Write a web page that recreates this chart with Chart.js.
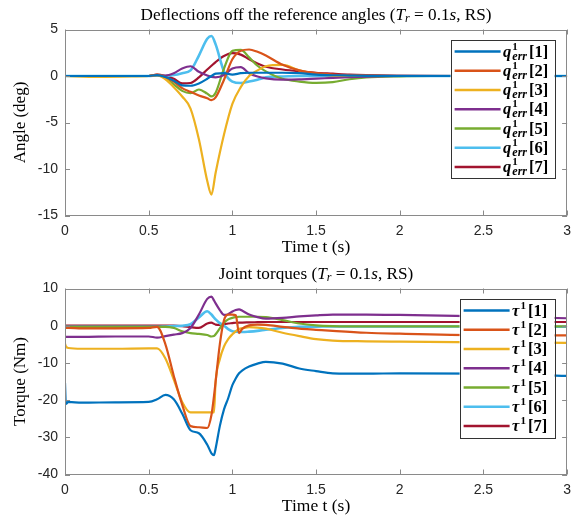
<!DOCTYPE html>
<html><head><meta charset="utf-8">
<script src="https://cdn.jsdelivr.net/npm/chart.js@4.4.1/dist/chart.umd.min.js"></script>
<style>
html,body{margin:0;padding:0;background:#fff;}
#wrap{position:relative;width:578px;height:519px;}
.c{position:absolute;left:0;width:578px;height:259px;}
</style></head><body>
<div id="wrap">
<div class="c" style="top:0"><canvas id="c1" width="578" height="259"></canvas></div>
<div class="c" style="top:259px"><canvas id="c2" width="578" height="259"></canvas></div>
</div>
<script>
// ---------- data: deflections (deg) ----------
const timeTop = [0,0.2,0.4,0.5,0.55,0.6,0.65,0.7,0.75,0.8,0.85,0.875,0.9,0.95,1.0,1.05,1.1,1.15,1.2,1.3,1.4,1.5,1.6,1.7,1.8,2.0,2.2,2.5,3.0];
const qErr1 = [0,0,0,0,0.1,-0.1,-0.5,-1.0,-1.05,-0.8,-0.3,0,0.25,0.3,0.15,0.3,0.35,0.35,0.35,0.35,0.3,0.15,0.08,0.05,0.02,0,0,0,0];
const qErr2 = [0,0,0,0,0.15,-0.1,-0.6,-1.3,-1.7,-2.1,-2.4,-2.6,-2.3,-0.4,1.8,2.7,2.85,2.6,2.2,1.2,0.6,0.3,0.15,0.08,0.05,0,0,0,0];
const qErr3 = [0,-0.1,-0.05,0,0.1,-0.35,-1.2,-2.2,-3.5,-6.8,-11.3,-12.75,-10.4,-6.3,-3.0,-1.2,0,0.6,1.05,1.2,0.6,0.2,0.05,0,0,0,0,0,0];
const qErr4 = [0,0,0,0,0.1,0.05,0.3,0.8,1.05,0.45,0.05,-0.1,-0.15,0.1,0.8,0.95,0.3,-0.05,-0.25,-0.38,-0.36,-0.28,-0.2,-0.12,-0.06,0,0,0,0];
const qErr5 = [0,0,0,0,0.1,-0.2,-0.9,-1.6,-1.85,-1.45,-1.9,-2.2,-1.8,0.8,2.7,2.8,2.0,1.1,0.5,-0.3,-0.6,-0.73,-0.65,-0.35,-0.15,-0.03,0,0,0];
const qErr6 = [0,0,0,0,0.05,0,0.1,0.3,0.6,2.2,4.0,4.3,3.4,0.5,-0.6,-0.75,-0.6,-0.4,-0.15,-0.05,0,0,0,0,0,0,0,0,0];
const qErr7 = [0,0,0,0,0.15,0,-0.3,-0.8,-0.75,-0.15,0.7,1.1,1.5,2.15,2.45,2.3,1.8,1.35,1.0,0.7,0.5,0.35,0.25,0.15,0.1,0.05,0.02,0,0];

// ---------- data: joint torques (Nm) ----------
const timeBottom = [0,0.005,0.02,0.1,0.3,0.5,0.55,0.6,0.65,0.7,0.75,0.8,0.85,0.875,0.89,0.9,0.925,0.95,0.975,1.0,1.02,1.04,1.06,1.1,1.15,1.2,1.3,1.4,1.5,1.6,1.8,2.0,2.5,3.0];
const tau1 = [-15.4,-21,-20.5,-20.7,-20.6,-20.5,-19.8,-18.6,-19.8,-23.6,-28.1,-28.9,-32.0,-34.3,-34.8,-33,-27,-22.5,-19.5,-16,-14.2,-12.8,-12.0,-11.0,-10.2,-9.7,-10.2,-11.5,-12.2,-12.8,-12.9,-12.8,-12.9,-13.5];
const tau2 = [-0.6,-0.6,-0.6,-0.7,-0.7,-0.6,-0.3,-5,-13.5,-21.2,-27,-27.3,-27.5,-24,-19,-15,-5,1.5,3.0,3.0,2.8,-2.0,-0.8,0.1,0.3,0.2,-0.3,-0.8,-1.1,-1.4,-1.9,-2.15,-2.55,-2.6];
const tau3 = [-4.8,-5.5,-6.0,-6.2,-6.2,-6.1,-6.1,-8.8,-14.5,-20.5,-23.3,-23.3,-23.3,-23.3,-23.3,-15,-9,-5.6,-3.6,-2.3,-1.5,-0.9,-0.7,-0.4,-0.5,-0.8,-1.9,-2.8,-3.6,-4.0,-4.2,-4.3,-4.5,-4.6];
const tau4 = [-3.0,-3.0,-3.0,-3.0,-2.9,-2.9,-3.2,-2.8,-2.4,-2.0,-0.6,3.0,7.2,7.8,6.8,6.0,4.2,2.9,3.1,3.8,4.2,4.4,4.0,3.0,2.3,1.9,2.1,2.5,2.8,3.0,3.0,2.9,2.5,2.0];
const tau5 = [-0.3,-0.3,-0.3,-0.3,-0.3,-0.3,-0.3,-0.3,-0.6,-1.5,-2.0,-2.2,-2.5,-2.9,-2.8,-2.3,-0.7,0.8,1.7,2.1,2.3,2.4,2.4,2.4,2.4,2.3,1.5,0.6,0.1,-0.1,-0.2,-0.2,-0.2,-0.2];
const tau6 = [-0.3,-0.3,-0.3,-0.3,-0.3,-0.3,-0.3,-0.2,-0.1,0,0.4,2.2,3.9,3.0,2.2,1.7,0.7,0,-0.9,-1.5,-1.6,-1.7,-1.7,-1.6,-1.4,-1.1,-0.6,-0.3,-0.25,-0.2,-0.2,-0.2,-0.25,-0.3];
const tau7 = [0,0,0,0,0,0,0,0,0,-0.1,-0.4,-0.6,0.6,0.8,0.5,0.3,0.2,0.4,0.6,0.7,0.8,0.85,0.85,0.9,0.95,1.0,1.0,1.0,1.0,1.0,1.0,1.0,1.0,1.0];

// ---------- ticks / labels ----------
const xTickValues = [0,0.5,1,1.5,2,2.5,3];
const yTicksTop = [-15,-10,-5,0,5];
const yTicksBottom = [-40,-30,-20,-10,0,10];
const jointIndex = ['[1]','[2]','[3]','[4]','[5]','[6]','[7]'];
const xAxisTitle = 'Time t (s)';
const yTitleTop = 'Angle (deg)';
const yTitleBottom = 'Torque (Nm)';
const titleTopMain = 'Deflections off the reference angles (';
const titleBottomMain = 'Joint torques (';
const COLORS = ['#0072BD','#D95319','#EDB120','#7E2F8E','#77AC30','#4DBEEE','#A2142F'];

const SERIF = "'Liberation Serif','DejaVu Serif',serif";
const SANS = "'Liberation Sans',Arial,sans-serif";
const FRAME = '#8a8a8a';

function toPts(t, v){ return t.map((x,i)=>({x:x,y:v[i]})); }

function drawRuns(ctx, runs, x, y, align){
  let w = 0;
  for (const r of runs){ ctx.font = r.font; r.w = ctx.measureText(r.t).width; w += r.w; }
  let cx = align === 'center' ? x - w/2 : x;
  for (const r of runs){ ctx.font = r.font; ctx.fillText(r.t, cx, y + (r.dy||0)); cx += r.w; }
}

const framePlugin = {
  id:'frame',
  afterDatasetsDraw(chart){
    const {ctx, chartArea:a, scales} = chart;
    ctx.save();
    ctx.strokeStyle = FRAME; ctx.lineWidth = 1;
    ctx.strokeRect(Math.round(a.left)+0.5, Math.round(a.top)+0.5, Math.round(a.right-a.left)-1, Math.round(a.bottom-a.top)-1);
    ctx.beginPath();
    const L = 5;
    for (const v of xTickValues){
      const px = Math.round(scales.x.getPixelForValue(v))+0.5;
      ctx.moveTo(px, a.bottom); ctx.lineTo(px, a.bottom-L);
      ctx.moveTo(px, a.top); ctx.lineTo(px, a.top+L);
    }
    for (const t of scales.y.ticks){
      const py = Math.round(scales.y.getPixelForValue(t.value))+0.5;
      ctx.moveTo(a.left, py); ctx.lineTo(a.left+L, py);
      ctx.moveTo(a.right, py); ctx.lineTo(a.right-L, py);
    }
    ctx.stroke();
    ctx.restore();
  }
};

const titlePlugin = {
  id:'mtitle',
  afterDraw(chart, args, opts){
    const {ctx, chartArea:a} = chart;
    ctx.save();
    ctx.fillStyle = '#000'; ctx.textBaseline = 'alphabetic';
    const fs = 17.2;
    drawRuns(ctx, [
      {t:opts.main, font:`${fs}px ${SERIF}`},
      {t:'T', font:`italic ${fs}px ${SERIF}`},
      {t:'r', font:`italic ${fs*0.7}px ${SERIF}`, dy:2.5},
      {t:' = 0.1', font:`${fs}px ${SERIF}`},
      {t:'s', font:`italic ${fs}px ${SERIF}`},
      {t:', RS)', font:`${fs}px ${SERIF}`}
    ], (a.left+a.right)/2, 19.5, 'center');
    ctx.restore();
  }
};

const legendPlugin = {
  id:'mlegend',
  afterDraw(chart, args, opts){
    const {ctx, chartArea:a} = chart;
    const right = a.right - 12.5, top = a.top + 10.5;
    const left = right - opts.width;
    ctx.save();
    ctx.fillStyle = '#fff';
    ctx.fillRect(left, top, opts.width, opts.height);
    ctx.strokeStyle = '#333'; ctx.lineWidth = 1;
    ctx.strokeRect(Math.round(left)+0.5, Math.round(top)+0.5, Math.round(opts.width), Math.round(opts.height));
    const step = 19.25;
    chart.data.datasets.forEach((ds, i)=>{
      const cy = top + 11.5 + i*step;
      ctx.strokeStyle = ds.borderColor; ctx.lineWidth = 2.5;
      ctx.beginPath(); ctx.moveTo(left+4, cy); ctx.lineTo(left+4+46, cy); ctx.stroke();
      ctx.fillStyle = '#000'; ctx.textBaseline = 'alphabetic';
      let x = left + 4 + 46 + 2.5;
      const by = cy + 5;
      ctx.font = `italic bold 16.5px ${SERIF}`;
      ctx.fillText(opts.sym, x, by); x += ctx.measureText(opts.sym).width + 1;
      ctx.font = `bold 11px ${SERIF}`;
      const w1 = ctx.measureText('1').width;
      ctx.fillText('1', x, by - 7);
      let w2 = 0;
      if (opts.sub){
        ctx.font = `italic bold 12px ${SERIF}`;
        w2 = ctx.measureText(opts.sub).width;
        ctx.fillText(opts.sub, x, by + 3);
      }
      x += Math.max(w1, w2) + 2;
      ctx.font = `bold 16.5px ${SERIF}`;
      ctx.fillText(jointIndex[i], x, by);
    });
    ctx.restore();
  }
};

function makeChart(id, time, series, yMin, yMax, yStep, yTitle, titleMain, leg){
  const datasets = series.map((s,i)=>({
    data: toPts(time, s),
    borderColor: COLORS[i], backgroundColor: COLORS[i],
    borderWidth: i===5 ? 2.6 : 2.2, pointRadius:0, fill:false,
    cubicInterpolationMode:'monotone'
  }));
  return new Chart(document.getElementById(id), {
    type:'line',
    data:{datasets},
    plugins:[framePlugin, titlePlugin, legendPlugin],
    options:{
      responsive:false, animation:false, devicePixelRatio:1,
      layout:{padding:{top:29.5,right:9,left:0,bottom:0}},
      plugins:{legend:{display:false}, title:{display:false}, tooltip:{enabled:false},
        mtitle:{main:titleMain}, mlegend:leg},
      scales:{
        x:{type:'linear', min:0, max:3,
          afterBuildTicks(s){ s.ticks = xTickValues.map(v=>({value:v})); },
          afterFit(s){ s.height = 43.5; },
          grid:{display:false, drawTicks:false}, border:{display:false},
          ticks:{padding:7, color:'#262626', font:{family:SANS, size:14}, maxRotation:0,
            callback:(v)=>String(v)},
          title:{display:true, text:xAxisTitle, color:'#000', font:{family:SERIF, size:17.5}, padding:{top:0,bottom:1}}
        },
        y:{type:'linear', min:yMin, max:yMax,
          ticks:{stepSize:yStep, padding:7, color:'#262626', font:{family:SANS, size:14}},
          afterFit(s){ s.width = 65; },
          grid:{display:false, drawTicks:false}, border:{display:false},
          title:{display:true, text:yTitle, color:'#000', font:{family:SERIF, size:17}, padding:{top:10,bottom:0}}
        }
      }
    }
  });
}

makeChart('c1', timeTop, [qErr1,qErr2,qErr3,qErr4,qErr5,qErr6,qErr7], -15, 5, 5, yTitleTop, titleTopMain,
  {sym:'q', sub:'err', width:104, height:138});
makeChart('c2', timeBottom, [tau1,tau2,tau3,tau4,tau5,tau6,tau7], -40, 10, 10, yTitleBottom, titleBottomMain,
  {sym:'τ', sub:'', width:95, height:139});
</script>
</body></html>
